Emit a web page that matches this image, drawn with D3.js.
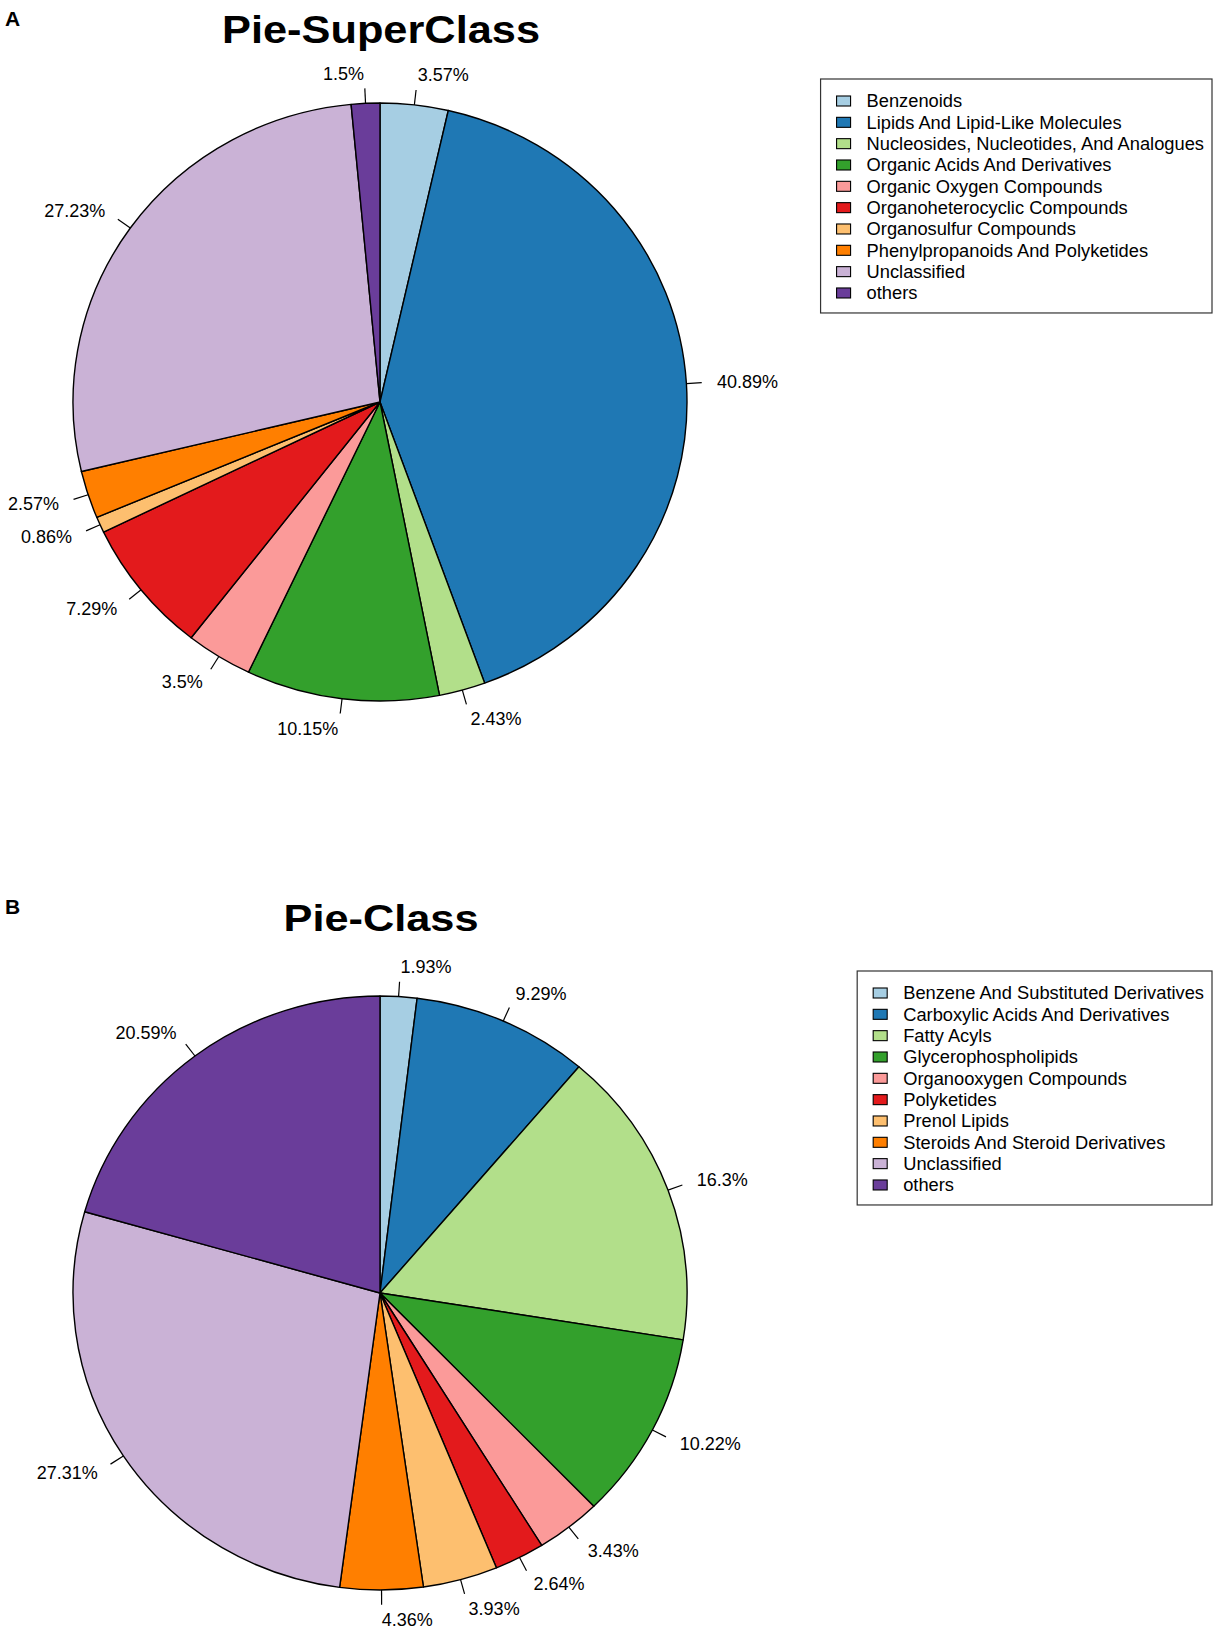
<!DOCTYPE html>
<html>
<head>
<meta charset="utf-8">
<script src="https://cdn.jsdelivr.net/npm/d3@7"></script>
<style>
  body { margin: 0; background: #fff; }
  text { font-family: "Liberation Sans", Arial, Helvetica, sans-serif; fill: #000; }
</style>
</head>
<body>
<div id="chart"></div>
<script>
// Panel A: super classes, clockwise from 12 o'clock
const superClassNames = [
    "Benzenoids",
    "Lipids And Lipid-Like Molecules",
    "Nucleosides, Nucleotides, And Analogues",
    "Organic Acids And Derivatives",
    "Organic Oxygen Compounds",
    "Organoheterocyclic Compounds",
    "Organosulfur Compounds",
    "Phenylpropanoids And Polyketides",
    "Unclassified",
    "others"
];
const superClassValues = [3.57, 40.89, 2.43, 10.15, 3.5, 7.29, 0.86, 2.57, 27.23, 1.5];

// Panel B: classes
const classNames = [
    "Benzene And Substituted Derivatives",
    "Carboxylic Acids And Derivatives",
    "Fatty Acyls",
    "Glycerophospholipids",
    "Organooxygen Compounds",
    "Polyketides",
    "Prenol Lipids",
    "Steroids And Steroid Derivatives",
    "Unclassified",
    "others"
];
const classValues = [1.93, 9.29, 16.3, 10.22, 3.43, 2.64, 3.93, 4.36, 27.31, 20.59];

// RColorBrewer "Paired"
const pairedColors = ["#A6CEE3", "#1F78B4", "#B2DF8A", "#33A02C", "#FB9A99",
                      "#E31A1C", "#FDBF6F", "#FF7F00", "#CAB2D6", "#6A3D9A"];

const width = 1220;
const height = 1637;

const svg = d3.select("#chart")
    .append("svg")
    .attr("width", width)
    .attr("height", height);

svg.append("rect").attr("width", width).attr("height", height).attr("fill", "#fff");

function drawPanel(cfg) {
    const data = cfg.names.map((n, i) => ({ name: n, value: cfg.values[i] }));
    const color = d3.scaleOrdinal().domain(cfg.names).range(pairedColors);

    // panel letter and title
    svg.append("text")
        .attr("x", 5)
        .attr("y", cfg.letterY)
        .attr("font-size", 21)
        .attr("font-weight", "bold")
        .text(cfg.letter);

    svg.append("text")
        .attr("x", cfg.cx + 1)
        .attr("y", cfg.titleY)
        .attr("text-anchor", "middle")
        .attr("font-size", cfg.titleSize)
        .attr("font-weight", "bold")
        .attr("textLength", cfg.titleLength)
        .attr("lengthAdjust", "spacingAndGlyphs")
        .text(cfg.title);

    // slices (figure is slightly squashed vertically, so scale the circle)
    const pie = d3.pie().sort(null).value(d => d.value);
    const arcs = pie(data);
    const arc = d3.arc().innerRadius(0).outerRadius(cfg.rx);

    const g = svg.append("g")
        .attr("transform", `translate(${cfg.cx},${cfg.cy}) scale(1,${cfg.ry / cfg.rx})`);

    g.selectAll("path")
        .data(arcs)
        .enter()
        .append("path")
        .attr("d", arc)
        .attr("fill", d => color(d.data.name))
        .attr("stroke", "#000")
        .attr("stroke-width", 1.4)
        .attr("stroke-linejoin", "round")
        .attr("vector-effect", "non-scaling-stroke");

    // ticks and percent labels, like base R pie()
    const px = (a, k) => cfg.cx + k * cfg.rx * Math.sin(a);
    const py = (a, k) => cfg.cy - k * cfg.ry * Math.cos(a);
    const mid = d => (d.startAngle + d.endAngle) / 2;

    svg.selectAll(null)
        .data(arcs)
        .enter()
        .append("line")
        .attr("x1", d => px(mid(d), 1))
        .attr("y1", d => py(mid(d), 1))
        .attr("x2", d => px(mid(d), 1.05))
        .attr("y2", d => py(mid(d), 1.05))
        .attr("stroke", "#000")
        .attr("stroke-width", 1.2);

    svg.selectAll(null)
        .data(arcs)
        .enter()
        .append("text")
        .attr("x", d => px(mid(d), 1.1))
        .attr("y", d => py(mid(d), 1.1))
        .attr("dy", "0.35em")
        .attr("text-anchor", d => Math.sin(mid(d)) < 0 ? "end" : "start")
        .attr("font-size", 18)
        .text(d => d.data.value + "%");

    // legend, anchored on its right edge
    const lg = svg.append("g");
    const rowH = 21.33;
    const labels = lg.selectAll(null)
        .data(data)
        .enter()
        .append("text")
        .attr("y", (d, i) => cfg.legendRow0 + i * rowH)
        .attr("dy", "0.35em")
        .attr("font-size", 18.3)
        .text(d => d.name);

    let maxW = 0;
    labels.each(function() { maxW = Math.max(maxW, this.getComputedTextLength()); });
    const right = 1212;
    const left = right - 8 - maxW - 46;

    labels.attr("x", left + 46);

    lg.selectAll(null)
        .data(data)
        .enter()
        .append("rect")
        .attr("x", left + 16)
        .attr("y", (d, i) => cfg.legendRow0 + i * rowH - 5)
        .attr("width", 14)
        .attr("height", 10)
        .attr("fill", d => color(d.name))
        .attr("stroke", "#000")
        .attr("stroke-width", 1.1);

    lg.insert("rect", ":first-child")
        .attr("x", left)
        .attr("y", cfg.legendRow0 - 22)
        .attr("width", right - left)
        .attr("height", (data.length - 1) * rowH + 42)
        .attr("fill", "#fff")
        .attr("stroke", "#333")
        .attr("stroke-width", 1.2);
}

drawPanel({
    names: superClassNames, values: superClassValues,
    letter: "A", letterY: 26,
    title: "Pie-SuperClass", titleY: 43, titleSize: 39, titleLength: 318,
    cx: 380, cy: 402, rx: 307, ry: 299,
    legendRow0: 101
});

drawPanel({
    names: classNames, values: classValues,
    letter: "B", letterY: 914,
    title: "Pie-Class", titleY: 931, titleSize: 37, titleLength: 195,
    cx: 380, cy: 1293, rx: 307, ry: 297,
    legendRow0: 993
});
</script>
</body>
</html>
